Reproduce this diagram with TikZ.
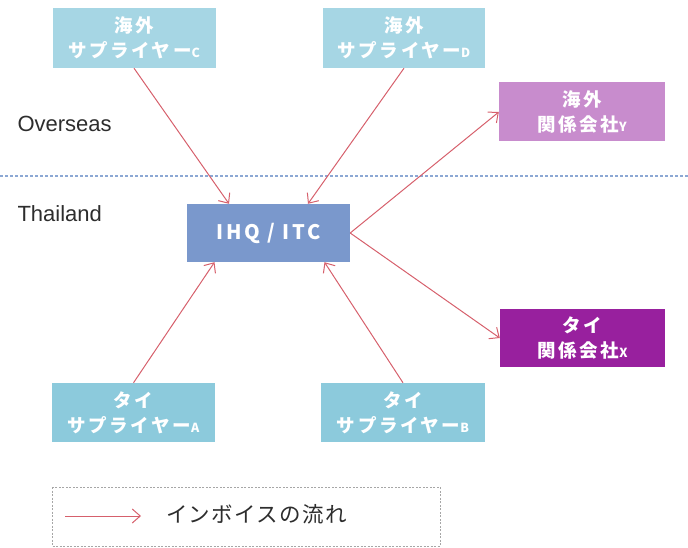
\documentclass[tikz,border=0pt]{standalone}
\usepackage{fontspec}
\setmainfont{Liberation Sans}
\newfontfamily\jp{Noto Sans CJK JP}[LetterSpace=14]
\newfontfamily\jplegend{Noto Sans CJK JP}[LetterSpace=6]
\usetikzlibrary{arrows.meta,calc}
\definecolor{supTop}{RGB}{166,214,228}
\definecolor{supBot}{RGB}{140,202,220}
\definecolor{ihqc}{RGB}{122,152,204}
\definecolor{yc}{RGB}{200,140,205}
\definecolor{xc}{RGB}{152,32,158}
\definecolor{arr}{RGB}{214,96,108}
\definecolor{sep}{RGB}{140,168,212}
\definecolor{lbl}{RGB}{45,45,45}
\newcommand{\smallL}[1]{{\fontsize{12.5}{12.5}\selectfont #1}}
\begin{document}
\begin{tikzpicture}[x=1pt,y=-1pt,
  box/.style={draw=none, text=white, align=center, inner sep=0pt,
    font=\jp\bfseries\fontsize{18.5}{25}\selectfont},
  flow/.style={draw=arr, line width=1pt, -{Straight Barb[length=8pt,width=14pt,line width=1pt]}},
  lab/.style={text=lbl, anchor=west, font=\fontsize{22}{26}\selectfont}]
\useasboundingbox (0,0) rectangle (688,548);
% separator
\draw[sep, line width=1.3pt, dash pattern=on 3pt off 2pt] (0,176) -- (688,176);
\node[lab] (ov) at (14,124) {Overseas};
\node[lab] (th) at (14,214) {Thailand};
% boxes
\node[box, fill=supTop, minimum width=163pt, minimum height=60pt] (C) at (134,38) {海外\\サプライヤー\smallL{C}};
\node[box, fill=supTop, minimum width=162pt, minimum height=60pt] (D) at (404,38) {海外\\サプライヤー\smallL{D}};
\node[box, fill=yc, minimum width=166pt, minimum height=59pt] (Y) at (582,112) {海外\\関係会社\smallL{Y}};
\node[box, fill=ihqc, minimum width=163pt, minimum height=58pt, font=\jp\bfseries\fontsize{20}{22}\selectfont] (I) at (268.5,233) {IHQ / ITC};
\node[box, fill=xc, minimum width=165pt, minimum height=58pt] (X) at (582.5,338) {タイ\\関係会社\smallL{X}};
\node[box, fill=supBot, minimum width=163pt, minimum height=59pt] (A) at (133.5,412.5) {タイ\\サプライヤー\smallL{A}};
\node[box, fill=supBot, minimum width=164pt, minimum height=59pt] (B) at (403,412.5) {タイ\\サプライヤー\smallL{B}};
% flows
\draw[flow] (C.south) -- ($(I.north)+(-39.5,0)$);
\draw[flow] (D.south) -- ($(I.north)+(39.5,0)$);
\draw[flow] (A.north) -- ($(I.south)+(-54,0)$);
\draw[flow] (B.north) -- ($(I.south)+(56,0)$);
\draw[flow] (I.east) -- (Y.west);
\draw[flow] (I.east) -- (X.west);
% legend
\draw[gray!70, line width=0.8pt, dash pattern=on 2pt off 1.5pt] (52,487) rectangle (440,546);
\coordinate (l1) at (65,516);
\coordinate (l2) at (141,516);
\draw[flow] (l1) -- (l2);
\node[text=lbl, anchor=west, font=\jplegend\fontsize{21.5}{24}\selectfont, inner sep=0pt] (lt) at (166,514) {インボイスの流れ};
\end{tikzpicture}
\end{document}
